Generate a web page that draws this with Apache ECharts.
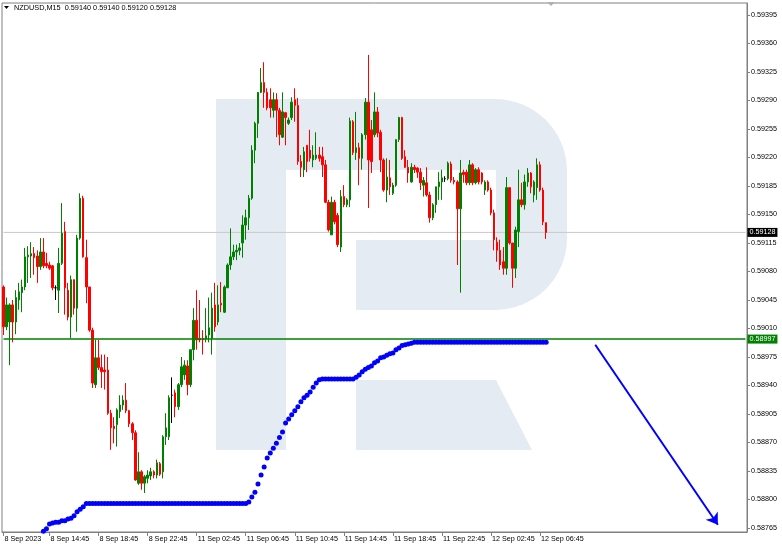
<!DOCTYPE html>
<html>
<head>
<meta charset="utf-8">
<script src="https://cdn.jsdelivr.net/npm/echarts@6/dist/echarts.min.js"></script>
<style>
html,body{margin:0;padding:0;background:#fff;}
#chart{width:782px;height:550px;}
</style>
</head>
<body>
<div id="chart"></div>
<script>
// ---------- DATA ----------
const symbolTitle = 'NZDUSD,M15  0.59140 0.59140 0.59120 0.59128';

const sessionDays = ['8 Sep', '11 Sep', '12 Sep'];
const sessionFirstSlot = [44, 0, 0];   // first 15-min slot of each day shown (8 Sep starts 11:00)
const categoryCount = 243;

const tickIndex = [0, 15, 31, 47, 63, 79, 95, 111, 127, 143, 159, 175];
const tickLabels = ['8 Sep 2023', '8 Sep 14:45', '8 Sep 18:45', '8 Sep 22:45', '11 Sep 02:45', '11 Sep 06:45',
  '11 Sep 10:45', '11 Sep 14:45', '11 Sep 18:45', '11 Sep 22:45', '12 Sep 02:45', '12 Sep 06:45'];

const yTicks = [0.58765, 0.58800, 0.58835, 0.58870, 0.58905, 0.58940, 0.58975, 0.59010, 0.59045, 0.59080,
  0.59115, 0.59150, 0.59185, 0.59220, 0.59255, 0.59290, 0.59325, 0.59360, 0.59395];

const opens = [
0.59061,0.59012,0.59018,0.59039,0.59018,0.59045,0.59054,0.59061,0.59098,0.59099,
0.59102,0.59099,0.59086,0.59104,0.59090,0.59088,0.59087,0.59060,0.59057,0.59090,
0.59129,0.59057,0.59024,0.59070,0.59035,0.59121,0.59170,0.59097,0.59061,0.59008,
0.58941,0.58974,0.58962,0.58959,0.58959,0.58906,0.58890,0.58892,0.58908,0.58916,
0.58922,0.58909,0.58893,0.58882,0.58820,0.58834,0.58820,0.58826,0.58829,0.58834,
0.58830,0.58844,0.58834,0.58877,0.58877,0.58928,0.58931,0.58914,0.58941,0.58953,
0.58964,0.58941,0.58984,0.59020,0.58998,0.58998,0.58997,0.59002,0.58998,0.59039,
0.59018,0.59041,0.59030,0.59060,0.59088,0.59098,0.59104,0.59106,0.59115,0.59137,
0.59146,0.59170,0.59229,0.59262,0.59300,0.59312,0.59300,0.59291,0.59278,0.59291,
0.59278,0.59245,0.59275,0.59262,0.59269,0.59291,0.59284,0.59215,0.59205,0.59235,
0.59229,0.59217,0.59219,0.59223,0.59221,0.59211,0.59165,0.59125,0.59165,0.59149,
0.59110,0.59172,0.59162,0.59168,0.59264,0.59226,0.59232,0.59219,0.59248,0.59288,
0.59254,0.59248,0.59276,0.59251,0.59217,0.59180,0.59195,0.59176,0.59186,0.59242,
0.59269,0.59221,0.59208,0.59190,0.59208,0.59207,0.59202,0.59186,0.59189,0.59174,
0.59146,0.59162,0.59184,0.59190,0.59194,0.59194,0.59212,0.59192,0.59190,0.59157,
0.59202,0.59202,0.59189,0.59211,0.59189,0.59205,0.59201,0.59180,0.59190,0.59180,
0.59152,0.59116,0.59106,0.59092,0.59084,0.59183,0.59115,0.59084,0.59129,0.59168,
0.59162,0.59190,0.59201,0.59174,0.59183,0.59211,0.59180,0.59140];

const closes = [
0.59012,0.59039,0.59039,0.59018,0.59048,0.59055,0.59061,0.59098,0.59100,0.59102,
0.59097,0.59086,0.59104,0.59087,0.59087,0.59084,0.59060,0.59060,0.59090,0.59127,
0.59060,0.59024,0.59070,0.59035,0.59121,0.59170,0.59098,0.59061,0.59008,0.58943,
0.58974,0.58962,0.58957,0.58957,0.58906,0.58888,0.58887,0.58910,0.58916,0.58922,
0.58909,0.58893,0.58882,0.58824,0.58834,0.58820,0.58828,0.58830,0.58834,0.58830,
0.58845,0.58831,0.58877,0.58888,0.58925,0.58928,0.58914,0.58941,0.58963,0.58965,
0.58941,0.58984,0.59020,0.58996,0.58996,0.58996,0.59001,0.59011,0.59035,0.59012,
0.59039,0.59039,0.59061,0.59088,0.59098,0.59104,0.59106,0.59109,0.59137,0.59146,
0.59170,0.59229,0.59262,0.59300,0.59312,0.59300,0.59281,0.59281,0.59291,0.59278,
0.59248,0.59276,0.59269,0.59266,0.59288,0.59284,0.59215,0.59208,0.59227,0.59215,
0.59219,0.59223,0.59223,0.59219,0.59211,0.59165,0.59131,0.59165,0.59141,0.59113,
0.59172,0.59162,0.59168,0.59265,0.59226,0.59232,0.59219,0.59248,0.59288,0.59217,
0.59215,0.59276,0.59250,0.59217,0.59180,0.59196,0.59184,0.59186,0.59242,0.59269,
0.59219,0.59208,0.59201,0.59208,0.59205,0.59202,0.59189,0.59192,0.59174,0.59146,
0.59162,0.59184,0.59190,0.59195,0.59194,0.59213,0.59192,0.59190,0.59157,0.59201,
0.59199,0.59189,0.59211,0.59189,0.59205,0.59190,0.59190,0.59190,0.59180,0.59152,
0.59119,0.59106,0.59088,0.59084,0.59183,0.59115,0.59084,0.59131,0.59168,0.59162,
0.59190,0.59201,0.59184,0.59190,0.59211,0.59180,0.59141,0.59128];

const lows = [
0.59002,0.59008,0.58965,0.58993,0.59003,0.59033,0.59030,0.59057,0.59066,0.59072,
0.59076,0.59066,0.59082,0.59084,0.59084,0.59082,0.59057,0.59045,0.59029,0.59088,
0.59027,0.59020,0.58998,0.59027,0.59006,0.59119,0.59097,0.59041,0.59006,0.58937,
0.58937,0.58959,0.58937,0.58935,0.58904,0.58861,0.58869,0.58865,0.58900,0.58910,
0.58906,0.58889,0.58873,0.58823,0.58818,0.58812,0.58808,0.58820,0.58824,0.58826,
0.58826,0.58829,0.58826,0.58867,0.58873,0.58894,0.58901,0.58910,0.58938,0.58947,
0.58928,0.58938,0.58971,0.58984,0.58993,0.58978,0.58993,0.58993,0.58978,0.59006,
0.59014,0.59030,0.59029,0.59060,0.59082,0.59094,0.59094,0.59100,0.59097,0.59119,
0.59131,0.59168,0.59213,0.59244,0.59299,0.59281,0.59278,0.59269,0.59269,0.59245,
0.59235,0.59244,0.59235,0.59260,0.59266,0.59264,0.59211,0.59196,0.59196,0.59202,
0.59215,0.59208,0.59217,0.59215,0.59196,0.59164,0.59129,0.59125,0.59138,0.59110,
0.59104,0.59159,0.59159,0.59159,0.59223,0.59217,0.59186,0.59205,0.59242,0.59158,
0.59201,0.59245,0.59245,0.59202,0.59178,0.59165,0.59174,0.59174,0.59184,0.59239,
0.59217,0.59207,0.59189,0.59189,0.59201,0.59195,0.59180,0.59172,0.59172,0.59140,
0.59143,0.59152,0.59168,0.59168,0.59190,0.59192,0.59189,0.59187,0.59088,0.59054,
0.59189,0.59186,0.59186,0.59186,0.59187,0.59187,0.59187,0.59174,0.59178,0.59149,
0.59106,0.59092,0.59082,0.59076,0.59076,0.59113,0.59060,0.59072,0.59110,0.59159,
0.59156,0.59184,0.59176,0.59165,0.59168,0.59178,0.59137,0.59120];

const highs = [
0.59063,0.59048,0.59041,0.59045,0.59057,0.59066,0.59070,0.59109,0.59111,0.59116,
0.59110,0.59106,0.59121,0.59121,0.59103,0.59092,0.59088,0.59063,0.59109,0.59164,
0.59141,0.59066,0.59075,0.59070,0.59125,0.59176,0.59173,0.59119,0.59061,0.59011,
0.58996,0.58996,0.58978,0.58978,0.58975,0.58910,0.58901,0.58912,0.58928,0.58928,
0.58943,0.58910,0.58895,0.58885,0.58858,0.58836,0.58830,0.58836,0.58839,0.58836,
0.58849,0.58846,0.58879,0.58906,0.58928,0.58950,0.58935,0.58943,0.58975,0.58971,
0.58971,0.58984,0.59035,0.59057,0.59045,0.59008,0.59035,0.59048,0.59054,0.59066,
0.59063,0.59067,0.59063,0.59090,0.59133,0.59113,0.59113,0.59115,0.59149,0.59156,
0.59174,0.59235,0.59264,0.59300,0.59330,0.59337,0.59305,0.59305,0.59300,0.59299,
0.59281,0.59300,0.59276,0.59269,0.59294,0.59305,0.59293,0.59223,0.59233,0.59235,
0.59254,0.59235,0.59251,0.59233,0.59233,0.59217,0.59168,0.59172,0.59168,0.59152,
0.59180,0.59186,0.59170,0.59269,0.59266,0.59276,0.59238,0.59250,0.59293,0.59346,
0.59266,0.59300,0.59282,0.59254,0.59219,0.59219,0.59217,0.59189,0.59242,0.59270,
0.59270,0.59229,0.59217,0.59213,0.59211,0.59208,0.59207,0.59196,0.59208,0.59178,
0.59164,0.59184,0.59202,0.59205,0.59197,0.59215,0.59215,0.59196,0.59192,0.59217,
0.59205,0.59205,0.59217,0.59213,0.59207,0.59208,0.59202,0.59192,0.59192,0.59183,
0.59156,0.59122,0.59119,0.59110,0.59196,0.59183,0.59115,0.59135,0.59205,0.59189,
0.59199,0.59207,0.59202,0.59192,0.59219,0.59215,0.59183,0.59140];

// dotted indicator (starts at bar 13)
const dotsStart = 13;
const dotValues = [
0.58761,0.58764,0.58770,0.58771,0.58772,0.58772,0.58774,0.58774,0.58776,0.58777,
0.58780,0.58785,0.58788,0.58791,
0.58795,0.58795,0.58795,0.58795,0.58795,0.58795,0.58795,0.58795,0.58795,0.58795,
0.58795,0.58795,0.58795,0.58795,0.58795,0.58795,0.58795,0.58795,0.58795,0.58795,
0.58795,0.58795,0.58795,0.58795,0.58795,0.58795,0.58795,0.58795,0.58795,0.58795,
0.58795,0.58795,0.58795,0.58795,0.58795,0.58795,0.58795,0.58795,0.58795,0.58795,
0.58795,0.58795,0.58795,0.58795,0.58795,0.58795,0.58795,0.58795,0.58795,0.58795,
0.58795,0.58795,0.58795,
0.58797,0.58803,0.58809,0.58819,0.58830,0.58840,0.58851,0.58857,0.58863,0.58869,
0.58876,0.58883,0.58894,0.58899,0.58904,0.58909,0.58914,0.58920,0.58925,0.58928,
0.58932,0.58938,0.58943,0.58947,0.58948,
0.58948,0.58948,0.58948,0.58948,0.58948,0.58948,0.58948,0.58948,0.58948,0.58948,
0.58950,0.58953,0.58957,0.58960,0.58962,0.58964,0.58968,0.58970,0.58974,0.58975,
0.58977,0.58979,0.58980,0.58984,0.58986,0.58989,0.58990,0.58991,0.58992,
0.58993,0.58993,0.58993,0.58993,0.58993,0.58993,0.58993,0.58993,0.58993,0.58993,
0.58993,0.58993,0.58993,0.58993,0.58993,0.58993,0.58993,0.58993,0.58993,0.58993,
0.58993,0.58993,0.58993,0.58993,0.58993,0.58993,0.58993,0.58993,0.58993,0.58993,
0.58993,0.58993,0.58993,0.58993,0.58993,0.58993,0.58993,0.58993,0.58993,0.58993,
0.58993,0.58993,0.58993,0.58993];

const levelLine = 0.58997;      // green horizontal level
const bidLine = 0.59128;        // current price line
const arrowFrom = [193, 0.58990];
const arrowTo = [233, 0.58769];

// ---------- BUILD ----------
const categories = [];
for (let d = 0; d < sessionDays.length; d++) {
  for (let s = sessionFirstSlot[d]; s < 96 && categories.length < categoryCount; s++) {
    const hh = String(Math.floor(s / 4)).padStart(2, '0');
    const mm = String((s % 4) * 15).padStart(2, '0');
    categories.push(sessionDays[d] + ' ' + hh + ':' + mm);
  }
}
const labelMap = {};
tickIndex.forEach((ix, k) => { labelMap[ix] = tickLabels[k]; });

const candleData = opens.map((o, i) => [o, closes[i], lows[i], highs[i]]);
const dotData = categories.map((c, i) => {
  const k = i - dotsStart;
  return (k >= 0 && k < dotValues.length) ? dotValues[k] : '-';
});
const lastCat = categories[categories.length - 1];

const FONT = 'Liberation Sans';
const yMin = 0.5876009, yMax = 0.5940974;

function hLine(value, color, width, boxColor, z) {
  return {
    type: 'line',
    data: [[categories[0], value], [lastCat, value]],
    showSymbol: false,
    symbol: 'none',
    silent: true,
    z: z,
    lineStyle: {color: color, width: width},
    endLabel: {
      show: true, distance: 2, formatter: value.toFixed(5), color: '#fff',
      backgroundColor: boxColor, padding: [1, 2, 1, 2], fontSize: 7.2, fontFamily: FONT
    }
  };
}

const chart = echarts.init(document.getElementById('chart'), null, {renderer: 'canvas'});
chart.setOption({
  animation: false,
  backgroundColor: '#ffffff',
  grid: {left: 2, right: 35, top: 3, bottom: 18, show: true, borderColor: '#808080', borderWidth: 1},
  graphic: [
    // watermark logo
    {type: 'rect', z: 0, silent: true, shape: {x: 216, y: 99, width: 351, height: 211, r: [0, 72, 72, 0]}, style: {fill: '#e5ebf3'}},
    {type: 'rect', z: 0, silent: true, shape: {x: 216, y: 99, width: 70, height: 351}, style: {fill: '#e5ebf3'}},
    {type: 'rect', z: 1, silent: true, shape: {x: 286, y: 170, width: 210, height: 70}, style: {fill: '#ffffff'}},
    {type: 'rect', z: 1, silent: true, shape: {x: 286, y: 170, width: 70, height: 280}, style: {fill: '#ffffff'}},
    {type: 'polygon', z: 0, silent: true, shape: {points: [[356, 380], [496, 380], [532, 450], [356, 450]]}, style: {fill: '#e5ebf3'}},
    // header
    {type: 'polygon', silent: true, shape: {points: [[4, 6], [9, 6], [6.5, 9]]}, style: {fill: '#000'}},
    {type: 'text', silent: true, x: 14, y: 4, style: {text: symbolTitle, font: '7.3px "Liberation Sans"', fill: '#000'}},
    {type: 'polygon', silent: true, shape: {points: [[547, 2], [555, 2], [551, 6]]}, style: {fill: '#b0b0b0'}}
  ],
  xAxis: {
    type: 'category',
    data: categories,
    boundaryGap: true,
    axisLine: {show: true, lineStyle: {color: '#808080'}},
    axisTick: {show: true, alignWithLabel: true, interval: (i) => (i in labelMap), length: 4, lineStyle: {color: '#808080'}},
    axisLabel: {
      interval: (i) => (i in labelMap),
      formatter: (v, i) => labelMap[i] || '',
      align: 'left', margin: 4, fontSize: 7.2, fontFamily: FONT, color: '#000', padding: [0, 0, 0, 1]
    },
    splitLine: {show: false}
  },
  yAxis: {
    type: 'value',
    position: 'right',
    min: yMin, max: yMax,
    axisLine: {show: true, lineStyle: {color: '#808080'}},
    axisTick: {show: true, customValues: yTicks, length: 3, lineStyle: {color: '#808080'}},
    axisLabel: {customValues: yTicks, formatter: (v) => v.toFixed(5), fontSize: 7.2, fontFamily: FONT, color: '#000', margin: 4},
    splitLine: {show: false}
  },
  series: [
    hLine(bidLine, '#c8c8c8', 1, '#000000', 2),
    {
      type: 'candlestick',
      data: candleData,
      barWidth: 2,
      z: 3,
      itemStyle: {color: '#008000', color0: '#ff0000', borderColor: '#008000', borderColor0: '#ff0000', borderColorDoji: '#000000', borderWidth: 1}
    },
    hLine(levelLine, '#008000', 1.5, '#008000', 4),
    {
      type: 'scatter',
      data: dotData,
      symbol: 'circle',
      symbolSize: 5,
      z: 5,
      itemStyle: {color: '#0000ff', opacity: 1},
      markLine: {
        silent: true,
        symbol: ['none', 'arrow'],
        symbolSize: 11,
        animation: false,
        label: {show: false},
        lineStyle: {color: '#0000ff', width: 2, type: 'solid'},
        data: [[{coord: [categories[arrowFrom[0]], arrowFrom[1]]}, {coord: [categories[arrowTo[0]], arrowTo[1]]}]]
      }
    }
  ]
});
</script>
</body>
</html>
